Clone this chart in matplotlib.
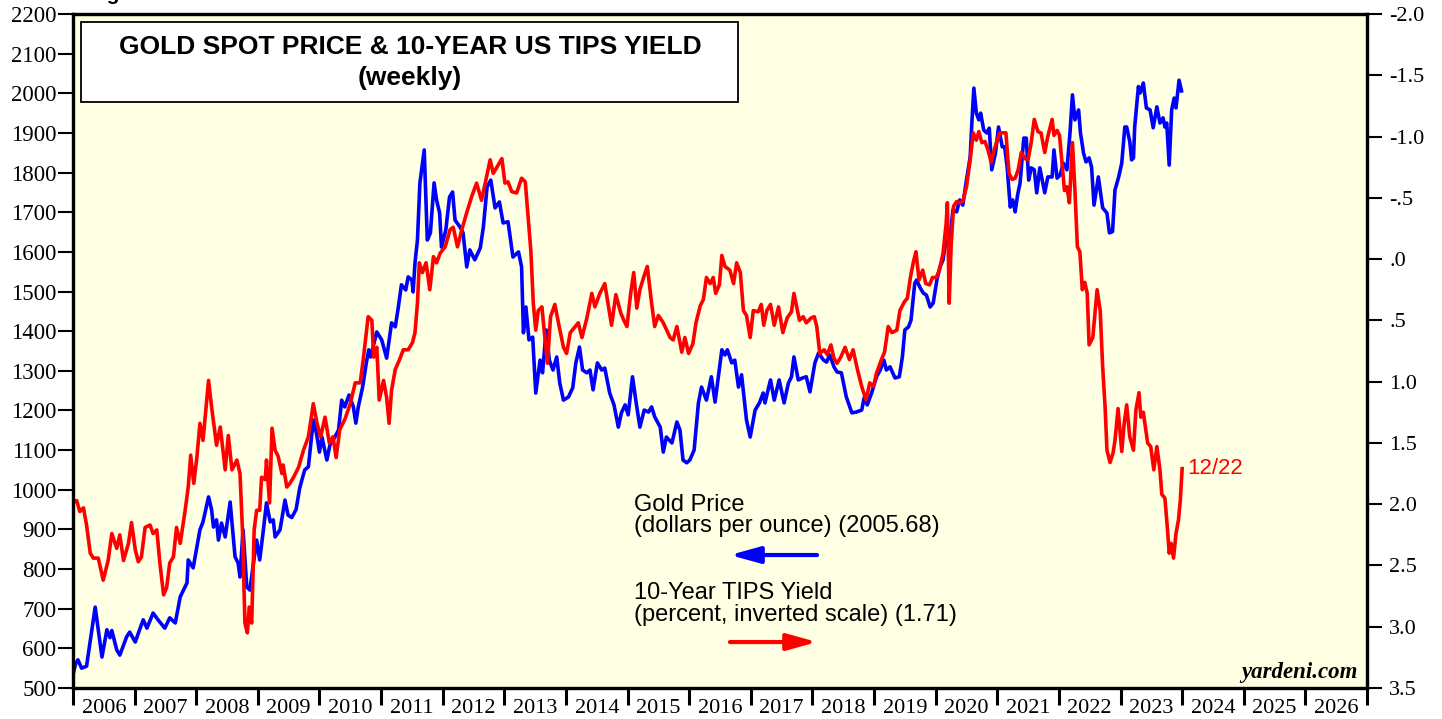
import numpy as np
import matplotlib.pyplot as plt
from matplotlib.patches import Rectangle
from matplotlib.ticker import FuncFormatter

# weekly-ish readings: (decimal year, value)
gold = [
    (2006.00, 533), (2006.04, 560), (2006.08, 571), (2006.14, 550), (2006.22, 555),
    (2006.30, 640), (2006.36, 704), (2006.41, 647), (2006.47, 578), (2006.55, 647),
    (2006.60, 627), (2006.63, 645), (2006.71, 596), (2006.76, 583), (2006.87, 629),
    (2006.92, 641), (2007.01, 616), (2007.09, 651), (2007.14, 672), (2007.20, 651),
    (2007.30, 689), (2007.38, 672), (2007.49, 651), (2007.57, 677), (2007.66, 664),
    (2007.74, 730), (2007.85, 765), (2007.87, 823), (2007.95, 803), (2008.06, 899),
    (2008.11, 919), (2008.20, 982), (2008.25, 949), (2008.28, 906), (2008.33, 924),
    (2008.36, 873), (2008.41, 916), (2008.47, 881), (2008.55, 969), (2008.63, 831),
    (2008.68, 815), (2008.71, 780), (2008.76, 899), (2008.82, 755), (2008.87, 747),
    (2008.93, 815), (2008.98, 873), (2009.03, 823), (2009.09, 899), (2009.14, 967),
    (2009.20, 919), (2009.25, 924), (2009.28, 881), (2009.36, 899), (2009.44, 974),
    (2009.49, 936), (2009.55, 930), (2009.62, 950), (2009.68, 1005), (2009.76, 1050),
    (2009.82, 1058), (2009.87, 1133), (2009.90, 1176), (2009.95, 1143), (2010.00, 1095),
    (2010.04, 1133), (2010.12, 1075), (2010.17, 1113), (2010.25, 1133), (2010.31, 1151),
    (2010.36, 1226), (2010.41, 1209), (2010.48, 1239), (2010.55, 1209), (2010.59, 1168),
    (2010.63, 1209), (2010.70, 1259), (2010.76, 1320), (2010.80, 1353), (2010.83, 1335),
    (2010.87, 1360), (2010.93, 1398), (2011.01, 1378), (2011.09, 1332), (2011.17, 1421),
    (2011.23, 1411), (2011.28, 1461), (2011.33, 1517), (2011.40, 1504), (2011.44, 1537),
    (2011.50, 1529), (2011.52, 1499), (2011.55, 1572), (2011.59, 1630), (2011.63, 1774),
    (2011.70, 1857), (2011.75, 1630), (2011.80, 1648), (2011.86, 1774), (2011.90, 1731),
    (2011.95, 1698), (2011.98, 1612), (2012.05, 1655), (2012.11, 1738), (2012.16, 1751),
    (2012.20, 1680), (2012.28, 1663), (2012.33, 1648), (2012.39, 1562), (2012.44, 1605),
    (2012.52, 1580), (2012.61, 1610), (2012.66, 1663), (2012.72, 1764), (2012.78, 1781),
    (2012.85, 1711), (2012.92, 1726), (2012.98, 1673), (2013.06, 1676), (2013.14, 1587),
    (2013.23, 1600), (2013.28, 1562), (2013.31, 1396), (2013.35, 1461), (2013.40, 1378),
    (2013.46, 1385), (2013.51, 1244), (2013.58, 1327), (2013.62, 1295), (2013.68, 1403),
    (2013.73, 1327), (2013.79, 1302), (2013.85, 1335), (2013.90, 1269), (2013.96, 1226),
    (2014.04, 1234), (2014.11, 1257), (2014.16, 1320), (2014.22, 1360), (2014.27, 1302),
    (2014.34, 1295), (2014.39, 1302), (2014.44, 1252), (2014.51, 1320), (2014.58, 1302),
    (2014.63, 1307), (2014.71, 1244), (2014.78, 1214), (2014.85, 1158), (2014.90, 1194),
    (2014.96, 1214), (2015.01, 1189), (2015.08, 1285), (2015.14, 1219), (2015.20, 1158),
    (2015.27, 1201), (2015.34, 1196), (2015.39, 1209), (2015.44, 1184), (2015.53, 1158),
    (2015.58, 1095), (2015.63, 1133), (2015.72, 1118), (2015.80, 1171), (2015.85, 1151),
    (2015.90, 1075), (2015.96, 1068), (2016.01, 1075), (2016.08, 1100), (2016.15, 1219),
    (2016.20, 1259), (2016.28, 1226), (2016.36, 1285), (2016.42, 1221), (2016.47, 1282),
    (2016.53, 1353), (2016.58, 1340), (2016.62, 1353), (2016.69, 1320), (2016.74, 1327),
    (2016.80, 1259), (2016.85, 1290), (2016.93, 1176), (2016.99, 1133), (2017.07, 1201),
    (2017.14, 1219), (2017.20, 1244), (2017.23, 1219), (2017.28, 1252), (2017.32, 1277),
    (2017.38, 1226), (2017.46, 1277), (2017.54, 1219), (2017.61, 1269), (2017.66, 1285),
    (2017.70, 1335), (2017.77, 1277), (2017.84, 1282), (2017.90, 1285), (2017.96, 1247),
    (2018.04, 1320), (2018.10, 1345), (2018.18, 1327), (2018.23, 1322), (2018.28, 1340),
    (2018.35, 1310), (2018.40, 1297), (2018.47, 1295), (2018.55, 1234), (2018.64, 1194),
    (2018.71, 1196), (2018.80, 1201), (2018.84, 1232), (2018.89, 1214), (2018.96, 1244),
    (2019.04, 1285), (2019.10, 1302), (2019.16, 1327), (2019.20, 1302), (2019.26, 1310),
    (2019.34, 1282), (2019.41, 1285), (2019.46, 1335), (2019.50, 1403), (2019.56, 1411),
    (2019.60, 1428), (2019.66, 1520), (2019.69, 1529), (2019.75, 1509), (2019.80, 1496),
    (2019.85, 1491), (2019.91, 1461), (2019.96, 1471), (2020.02, 1529), (2020.07, 1562),
    (2020.12, 1580), (2020.18, 1648), (2020.23, 1630), (2020.28, 1706), (2020.34, 1701),
    (2020.39, 1731), (2020.44, 1718), (2020.50, 1781), (2020.56, 1839), (2020.59, 1933),
    (2020.62, 2013), (2020.66, 1950), (2020.70, 1933), (2020.73, 1950), (2020.78, 1907),
    (2020.83, 1900), (2020.87, 1912), (2020.91, 1807), (2020.97, 1849), (2021.02, 1915),
    (2021.08, 1865), (2021.12, 1865), (2021.16, 1814), (2021.21, 1713), (2021.25, 1731),
    (2021.29, 1701), (2021.33, 1744), (2021.37, 1774), (2021.43, 1887), (2021.47, 1887),
    (2021.51, 1781), (2021.55, 1812), (2021.60, 1807), (2021.64, 1749), (2021.69, 1812),
    (2021.77, 1749), (2021.82, 1789), (2021.89, 1789), (2021.92, 1857), (2021.97, 1786),
    (2022.02, 1794), (2022.07, 1824), (2022.13, 1807), (2022.18, 1900), (2022.22, 1996),
    (2022.26, 1933), (2022.32, 1958), (2022.35, 1900), (2022.40, 1849), (2022.44, 1827),
    (2022.49, 1837), (2022.53, 1814), (2022.57, 1718), (2022.64, 1789), (2022.71, 1711),
    (2022.78, 1698), (2022.82, 1648), (2022.87, 1651), (2022.91, 1756), (2022.97, 1789),
    (2023.02, 1824), (2023.07, 1915), (2023.10, 1915), (2023.15, 1878), (2023.18, 1832),
    (2023.21, 1837), (2023.23, 1915), (2023.26, 1966), (2023.29, 2017), (2023.32, 2001),
    (2023.37, 2026), (2023.42, 1963), (2023.48, 1958), (2023.53, 1913), (2023.59, 1966),
    (2023.64, 1925), (2023.69, 1938), (2023.72, 1915), (2023.75, 1925), (2023.79, 1819),
    (2023.83, 1958), (2023.87, 1988), (2023.90, 1963), (2023.95, 2033), (2023.99, 2006),
]

tips = [
    (2006.00, 1.99), (2006.06, 1.97), (2006.11, 2.06), (2006.17, 2.03), (2006.22, 2.17),
    (2006.28, 2.40), (2006.33, 2.44), (2006.41, 2.44), (2006.49, 2.62), (2006.57, 2.46),
    (2006.63, 2.24), (2006.71, 2.36), (2006.76, 2.25), (2006.82, 2.46), (2006.90, 2.32),
    (2006.95, 2.15), (2007.01, 2.37), (2007.06, 2.47), (2007.11, 2.43), (2007.17, 2.19),
    (2007.25, 2.17), (2007.30, 2.24), (2007.36, 2.21), (2007.41, 2.48), (2007.47, 2.74),
    (2007.52, 2.68), (2007.57, 2.48), (2007.63, 2.43), (2007.68, 2.19), (2007.74, 2.32),
    (2007.82, 2.05), (2007.87, 1.86), (2007.91, 1.60), (2007.96, 1.83), (2008.01, 1.62),
    (2008.06, 1.34), (2008.11, 1.48), (2008.20, 0.99), (2008.25, 1.21), (2008.33, 1.52),
    (2008.39, 1.37), (2008.47, 1.72), (2008.52, 1.44), (2008.58, 1.72), (2008.66, 1.64),
    (2008.71, 1.75), (2008.75, 2.21), (2008.79, 2.97), (2008.83, 3.05), (2008.86, 2.84),
    (2008.90, 2.97), (2008.94, 2.21), (2008.98, 2.05), (2009.03, 2.05), (2009.06, 1.78),
    (2009.12, 1.80), (2009.14, 1.64), (2009.19, 1.99), (2009.23, 1.38), (2009.28, 1.56),
    (2009.33, 1.61), (2009.39, 1.75), (2009.41, 1.68), (2009.47, 1.86), (2009.52, 1.83),
    (2009.58, 1.78), (2009.66, 1.70), (2009.74, 1.56), (2009.82, 1.45), (2009.90, 1.18),
    (2009.96, 1.34), (2010.02, 1.45), (2010.09, 1.29), (2010.16, 1.50), (2010.22, 1.45),
    (2010.27, 1.62), (2010.33, 1.39), (2010.41, 1.31), (2010.50, 1.18), (2010.58, 1.01),
    (2010.66, 1.01), (2010.71, 0.82), (2010.79, 0.47), (2010.85, 0.50), (2010.88, 0.80),
    (2010.93, 0.72), (2010.97, 1.15), (2011.04, 0.99), (2011.09, 1.13), (2011.13, 1.34),
    (2011.17, 1.07), (2011.23, 0.90), (2011.30, 0.82), (2011.36, 0.74), (2011.44, 0.74),
    (2011.51, 0.68), (2011.55, 0.60), (2011.59, 0.36), (2011.62, 0.03), (2011.67, 0.11),
    (2011.73, 0.03), (2011.79, 0.25), (2011.85, -0.02), (2011.90, 0.03), (2011.96, -0.05),
    (2012.04, -0.10), (2012.12, -0.24), (2012.17, -0.26), (2012.24, -0.10), (2012.31, -0.24),
    (2012.39, -0.38), (2012.47, -0.51), (2012.55, -0.62), (2012.63, -0.48), (2012.69, -0.62),
    (2012.77, -0.81), (2012.82, -0.70), (2012.88, -0.75), (2012.96, -0.82), (2013.01, -0.62),
    (2013.06, -0.63), (2013.12, -0.55), (2013.20, -0.54), (2013.28, -0.66), (2013.34, -0.63),
    (2013.39, -0.32), (2013.43, -0.07), (2013.47, 0.36), (2013.51, 0.58), (2013.55, 0.42),
    (2013.61, 0.39), (2013.65, 0.60), (2013.70, 0.85), (2013.75, 0.47), (2013.82, 0.37),
    (2013.89, 0.55), (2013.96, 0.72), (2014.01, 0.77), (2014.07, 0.60), (2014.15, 0.55),
    (2014.20, 0.52), (2014.26, 0.64), (2014.34, 0.48), (2014.42, 0.28), (2014.47, 0.39),
    (2014.55, 0.28), (2014.63, 0.20), (2014.74, 0.54), (2014.81, 0.29), (2014.89, 0.44),
    (2014.94, 0.50), (2014.99, 0.55), (2015.05, 0.28), (2015.10, 0.11), (2015.15, 0.40),
    (2015.20, 0.25), (2015.26, 0.15), (2015.32, 0.06), (2015.39, 0.36), (2015.44, 0.55),
    (2015.50, 0.46), (2015.58, 0.52), (2015.69, 0.64), (2015.74, 0.66), (2015.80, 0.55),
    (2015.88, 0.76), (2015.93, 0.64), (2015.99, 0.77), (2016.06, 0.69), (2016.11, 0.52),
    (2016.18, 0.38), (2016.23, 0.33), (2016.28, 0.15), (2016.34, 0.20), (2016.39, 0.15),
    (2016.43, 0.28), (2016.49, 0.21), (2016.53, -0.03), (2016.58, 0.06), (2016.66, 0.09),
    (2016.72, 0.20), (2016.77, 0.03), (2016.83, 0.11), (2016.88, 0.42), (2016.93, 0.46),
    (2016.99, 0.64), (2017.04, 0.42), (2017.12, 0.43), (2017.17, 0.37), (2017.21, 0.54),
    (2017.26, 0.42), (2017.32, 0.37), (2017.38, 0.54), (2017.45, 0.39), (2017.52, 0.60),
    (2017.59, 0.48), (2017.66, 0.43), (2017.70, 0.28), (2017.79, 0.50), (2017.85, 0.47),
    (2017.90, 0.52), (2017.98, 0.48), (2018.03, 0.47), (2018.07, 0.55), (2018.12, 0.77),
    (2018.19, 0.74), (2018.24, 0.78), (2018.30, 0.70), (2018.35, 0.81), (2018.40, 0.85),
    (2018.46, 0.80), (2018.53, 0.72), (2018.60, 0.82), (2018.66, 0.74), (2018.73, 0.90),
    (2018.80, 1.04), (2018.87, 1.15), (2018.93, 1.01), (2018.99, 1.04), (2019.04, 0.93),
    (2019.12, 0.82), (2019.17, 0.76), (2019.23, 0.55), (2019.29, 0.60), (2019.37, 0.58),
    (2019.42, 0.42), (2019.49, 0.35), (2019.54, 0.32), (2019.59, 0.15), (2019.64, 0.02),
    (2019.68, -0.06), (2019.73, 0.17), (2019.79, 0.09), (2019.84, 0.20), (2019.90, 0.21),
    (2019.95, 0.15), (2020.01, 0.15), (2020.06, 0.09), (2020.12, -0.05), (2020.17, -0.29),
    (2020.19, -0.46), (2020.22, 0.36), (2020.25, -0.10), (2020.29, -0.43), (2020.34, -0.47),
    (2020.39, -0.46), (2020.44, -0.47), (2020.50, -0.59), (2020.56, -0.81), (2020.61, -1.03),
    (2020.66, -0.97), (2020.70, -1.04), (2020.75, -0.95), (2020.80, -0.96), (2020.85, -0.89),
    (2020.90, -0.79), (2020.95, -0.89), (2021.00, -0.97), (2021.04, -1.03), (2021.10, -1.03),
    (2021.14, -1.03), (2021.19, -0.70), (2021.24, -0.65), (2021.29, -0.66), (2021.34, -0.73),
    (2021.39, -0.87), (2021.45, -0.82), (2021.50, -0.81), (2021.55, -0.95), (2021.60, -1.14),
    (2021.66, -1.04), (2021.71, -1.03), (2021.77, -0.87), (2021.82, -1.00), (2021.89, -1.14),
    (2021.92, -1.01), (2021.97, -1.05), (2022.01, -1.01), (2022.05, -0.78), (2022.09, -0.56),
    (2022.13, -0.59), (2022.17, -0.46), (2022.22, -0.95), (2022.26, -0.56), (2022.30, -0.10),
    (2022.34, -0.06), (2022.38, 0.25), (2022.42, 0.19), (2022.46, 0.28), (2022.49, 0.70),
    (2022.55, 0.64), (2022.62, 0.25), (2022.67, 0.42), (2022.71, 0.88), (2022.75, 1.21),
    (2022.78, 1.56), (2022.83, 1.66), (2022.88, 1.58), (2022.91, 1.48), (2022.96, 1.22),
    (2023.02, 1.57), (2023.06, 1.34), (2023.10, 1.19), (2023.15, 1.45), (2023.21, 1.56),
    (2023.25, 1.23), (2023.30, 1.09), (2023.33, 1.29), (2023.37, 1.25), (2023.44, 1.50),
    (2023.49, 1.53), (2023.54, 1.72), (2023.59, 1.53), (2023.64, 1.72), (2023.67, 1.92),
    (2023.72, 1.95), (2023.76, 2.19), (2023.79, 2.40), (2023.82, 2.32), (2023.86, 2.44),
    (2023.90, 2.24), (2023.94, 2.13), (2023.97, 1.97), (2024.00, 1.71),
]

years = list(range(2006, 2027))
gold_ticks = list(range(500, 2201, 100))
tips_ticks = [-2.0, -1.5, -1.0, -0.5, 0.0, 0.5, 1.0, 1.5, 2.0, 2.5, 3.0, 3.5]
gold_last = "2005.68"
tips_last = "1.71"
last_date = "12/22"

gt, gv = np.array(gold).T
tt, tv = np.array(tips).T

plt.rcParams['font.family'] = 'Liberation Serif'
SANS = 'Liberation Sans'

fig = plt.figure(figsize=(14.42, 7.19), dpi=100)
ax = fig.add_axes([73 / 1442, 31 / 719, 1294 / 1442, 674 / 719])
ax.set_facecolor('#FFFFE3')
ax.plot(gt, gv, color='#0000FF', lw=2.6, solid_joinstyle='round')
ax.set_xlim(2006, 2027)
ax.set_ylim(500, 2200)

ax2 = ax.twinx()
ax2.plot(tt, tv, color='#FF0000', lw=2.6, solid_joinstyle='round')
ax2.set_ylim(3.5, -2.0)

for a in (ax, ax2):
    for s in a.spines.values():
        s.set_linewidth(2.3)

# left axis
ax.set_yticks(gold_ticks)
ax.tick_params(axis='y', direction='out', length=11, width=1.5, labelsize=16.5, pad=1)

# years: ticks at boundaries, labels centred in between
ax.set_xticks(range(2006, 2028))
ax.set_xticklabels([])
ax.set_xticks([y + 0.5 for y in years], minor=True)
ax.set_xticklabels([str(y) for y in years], minor=True)
ax.tick_params(axis='x', which='major', direction='out', length=12, width=2.2)
ax.tick_params(axis='x', which='minor', length=0, pad=8, labelsize=16)


def tips_fmt(v, pos):
    s = f"{abs(v):.1f}"
    if abs(v) < 1:
        s = s[1:]
    return ("-" if v < -1e-9 else "") + s


ax2.set_yticks(tips_ticks)
ax2.yaxis.set_major_formatter(FuncFormatter(tips_fmt))
ax2.tick_params(axis='y', direction='out', length=11, width=1.5, labelsize=16, pad=5)

# title box
ax2.add_patch(Rectangle((0.0062, 0.869), 0.5077, 0.119, transform=ax2.transAxes,
                        facecolor='white', edgecolor='black', lw=1.3, zorder=5))
ax2.text(0.2604, 0.951, "GOLD SPOT PRICE & 10-YEAR US TIPS YIELD", transform=ax2.transAxes,
         ha='center', va='center', fontsize=19, fontweight='bold', family=SANS, zorder=6)
ax2.text(0.2604, 0.905, "(weekly)", transform=ax2.transAxes,
         ha='center', va='center', fontsize=19, fontweight='bold', family=SANS, zorder=6)

# legend text and arrows
ax2.text(0.4335, 0.2715, "Gold Price", transform=ax2.transAxes, ha='left', va='center',
         fontsize=17, family=SANS)
ax2.text(0.4335, 0.2404, f"(dollars per ounce) ({gold_last})", transform=ax2.transAxes,
         ha='left', va='center', fontsize=17, family=SANS)
ax2.text(0.4335, 0.141, "10-Year TIPS Yield", transform=ax2.transAxes, ha='left', va='center',
         fontsize=17, family=SANS)
ax2.text(0.4335, 0.1083, f"(percent, inverted scale) ({tips_last})", transform=ax2.transAxes,
         ha='left', va='center', fontsize=17, family=SANS)
arrow = '-|>,head_length=0.9,head_width=0.25'
ax2.annotate('', xy=(0.5077, 0.1973), xytext=(0.575, 0.1973), xycoords='axes fraction',
             arrowprops=dict(arrowstyle=arrow, color='#0000FF', lw=3.0, mutation_scale=20,
                             shrinkA=0, shrinkB=0))
ax2.annotate('', xy=(0.575, 0.0682), xytext=(0.5077, 0.0682), xycoords='axes fraction',
             arrowprops=dict(arrowstyle=arrow, color='#FF0000', lw=3.0, mutation_scale=20,
                             shrinkA=0, shrinkB=0))

ax2.annotate(last_date, xy=(tt[-1], tv[-1]), xytext=(4, 0), textcoords='offset points',
             ha='left', va='center', color='#FF0000', fontsize=16, family=SANS)

ax2.text(0.993, 0.0237, "yardeni.com", transform=ax2.transAxes, ha='right', va='center',
         fontsize=16.5, fontweight='bold', style='italic')

fig.text(88 / 1442, 1.0, "Figure 1.", ha='left', va='baseline', fontsize=15,
         fontweight='bold', family=SANS)

fig.savefig("out.png", dpi=100)
